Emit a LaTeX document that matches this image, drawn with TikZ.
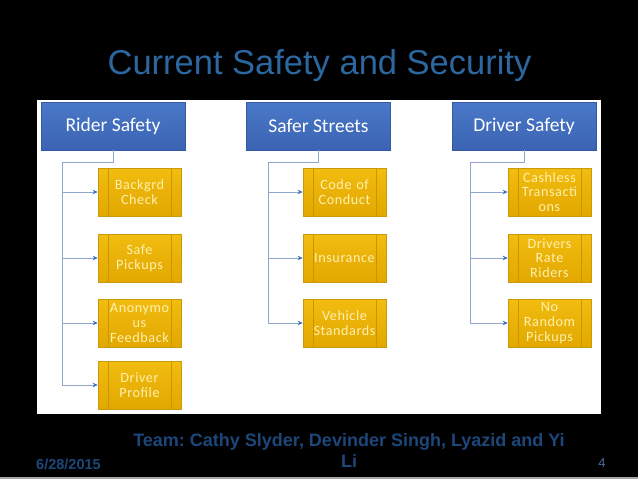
\documentclass[tikz,border=0pt]{standalone}
\usepackage{fontspec}
\setmainfont{Liberation Sans}
\newfontfamily\calib{Carlito}
\newfontfamily\calibsp[LetterSpace=4]{Carlito}
\usetikzlibrary{arrows.meta}
\frenchspacing
\definecolor{titleblue}{HTML}{2C67A0}
\definecolor{hdrtop}{HTML}{4A78C8}
\definecolor{hdrbot}{HTML}{3B63B3}
\definecolor{hdredge}{HTML}{3558A0}
\definecolor{goldtop}{HTML}{F2BC10}
\definecolor{goldbot}{HTML}{E2A800}
\definecolor{goldedge}{HTML}{C99A0A}
\definecolor{goldline}{HTML}{C89600}
\definecolor{paletext}{HTML}{FFF0B0}
\definecolor{connline}{HTML}{8FA6CF}
\definecolor{tipblue}{HTML}{3F6CC0}
\definecolor{footblue}{HTML}{1D477A}
\definecolor{pagegray}{HTML}{4A6A90}
\tikzset{
  hdr/.style={draw=hdredge, line width=0.6pt, top color=hdrtop, bottom color=hdrbot,
    minimum width=144pt, minimum height=48pt, inner sep=0pt,
    text=white, font=\calib\fontsize{19.5}{22}\selectfont},
  item/.style={draw=goldedge, line width=0.6pt, top color=goldtop, bottom color=goldbot,
    minimum width=83pt, minimum height=48pt, inner sep=0pt, text width=66pt, align=center,
    text=paletext, font=\calibsp\fontsize{14.2}{14.8}\selectfont,
    path picture={
      \draw[goldline, line width=0.6pt]
        ([xshift=10pt]path picture bounding box.north west) -- ([xshift=10pt]path picture bounding box.south west)
        ([xshift=-10pt]path picture bounding box.north east) -- ([xshift=-10pt]path picture bounding box.south east);
    }},
  conn/.style={draw=connline, line width=0.9pt},
  arr/.style={conn, -{Stealth[length=5pt,width=4.5pt,color=tipblue]}},
}
\begin{document}
\begin{tikzpicture}[x=1pt,y=-1pt]
\useasboundingbox (0,0) rectangle (638,479);
\fill[black] (0,0) rectangle (638,479);
\fill[gray!70] (0,477) rectangle (638,479);
\node[text=titleblue, font=\fontsize{34.5}{40}\selectfont, anchor=base] (title) at (319.5,74) {Current Safety and Security};
\node[fill=white, minimum width=564pt, minimum height=314pt, inner sep=0pt, anchor=north west] (panel) at (37,100) {};
% headers
\node[hdr] (hR) at (113,126) {Rider Safety};
\node[hdr] (hS) at (318.5,126) {Safer Streets};
\node[hdr] (hD) at (524,126) {Driver Safety};
% rider children
\node[item] (r1) at (139.5,192) {Backgrd\\Check};
\node[item] (r2) at (139.5,258) {Safe\\Pickups};
\node[item] (r3) at (139.5,323) {Anonymo\\us\\Feedback};
\node[item] (r4) at (139.5,385) {Driver\\Profile};
% safer streets children
\node[item] (s1) at (344.5,192) {Code of\\Conduct};
\node[item] (s2) at (344.5,258) {Insurance};
\node[item] (s3) at (344.5,323) {Vehicle\\Standards};
% driver children
\node[item] (d1) at (549.5,192) {Cashless\\Transacti\\ons};
\node[item] (d2) at (549.5,258) {Drivers\\Rate\\Riders};
\node[item] (d3) at (549.5,323) {No\\Random\\Pickups};
% bus coordinates
\coordinate (bR) at (62,162);
\coordinate (bS) at (268,162);
\coordinate (bD) at (470,162);
\draw[conn] (hR.south) -- (hR.south |- bR) -- (bR) -- (bR |- r4.west);
\draw[conn] (hS.south) -- (hS.south |- bS) -- (bS) -- (bS |- s3.west);
\draw[conn] (hD.south) -- (hD.south |- bD) -- (bD) -- (bD |- d3.west);
\foreach \c in {r1,r2,r3,r4} \draw[arr] (bR |- \c.west) -- (\c.west);
\foreach \c in {s1,s2,s3} \draw[arr] (bS |- \c.west) -- (\c.west);
\foreach \c in {d1,d2,d3} \draw[arr] (bD |- \c.west) -- (\c.west);
% footer
\node[text=footblue, font=\bfseries\fontsize{18}{21}\selectfont, align=center, anchor=north] (team) at (349,430) {Team: Cathy Slyder, Devinder Singh, Lyazid and Yi\\Li};
\node[text=footblue, font=\bfseries\fontsize{14.5}{16}\selectfont, anchor=west, inner sep=0pt] (date) at (36,464) {6/28/2015};
\node[text=pagegray, font=\fontsize{13}{15}\selectfont, anchor=center, inner sep=0pt] (page) at (602,463) {4};
\end{tikzpicture}
\end{document}
